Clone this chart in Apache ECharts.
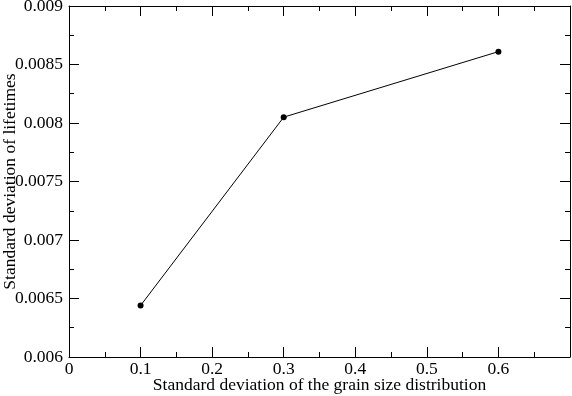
<!DOCTYPE html>
<html><head><meta charset="utf-8">
<script src="https://cdn.jsdelivr.net/npm/echarts@6/dist/echarts.min.js"></script>
<style>html,body{margin:0;padding:0;background:#fff}#c{width:572px;height:396px}</style>
</head><body><div id="c"></div>
<script>
const xValues = [0.1, 0.3, 0.6];
const yValues = [0.00644, 0.00805, 0.00861];
const xTitle = 'Standard deviation of the grain size distribution';
const yTitle = 'Standard deviation of lifetimes';

const font = 'Liberation Serif';
const fmt = v => String(parseFloat(v.toFixed(5)));
const axisCommon = {
  axisLine: {onZero: false, lineStyle: {color: '#000', width: 1}},
  axisTick: {inside: true, length: 10, lineStyle: {color: '#000'}},
  minorTick: {show: true, splitNumber: 2, length: 5, lineStyle: {color: '#000'}},
  splitLine: {show: false},
  nameMoveOverlap: false
};
const chart = echarts.init(document.getElementById('c'));
chart.setOption({
  animation: false,
  backgroundColor: '#fff',
  grid: {left: 69, right: 2, top: 6, bottom: 39, containLabel: false, outerBoundsMode: 'none'},
  xAxis: [
    Object.assign({type: 'value', min: 0, max: 0.7, interval: 0.1, position: 'bottom',
      name: xTitle, nameLocation: 'middle', nameGap: 19,
      nameTextStyle: {fontFamily: font, fontSize: 17.5, color: '#000'},
      axisLabel: {fontFamily: font, fontSize: 17.5, color: '#000', margin: 3,
        formatter: v => (Math.abs(v - 0.7) < 1e-9 ? '' : fmt(v))}}, axisCommon),
    Object.assign({type: 'value', min: 0, max: 0.7, interval: 0.1, position: 'top',
      axisLabel: {show: false}}, axisCommon)
  ],
  yAxis: [
    Object.assign({type: 'value', min: 0.006, max: 0.009, interval: 0.0005, position: 'left',
      name: yTitle, nameLocation: 'middle', nameGap: 50,
      nameTextStyle: {fontFamily: font, fontSize: 17.5, color: '#000'},
      axisLabel: {fontFamily: font, fontSize: 17.5, color: '#000', margin: 6, formatter: fmt}}, axisCommon),
    Object.assign({type: 'value', min: 0.006, max: 0.009, interval: 0.0005, position: 'right',
      axisLabel: {show: false}}, axisCommon)
  ],
  series: [{
    type: 'line',
    data: xValues.map((x, i) => [x, yValues[i]]),
    symbol: 'circle', symbolSize: 6,
    lineStyle: {color: '#000', width: 1},
    itemStyle: {color: '#000'}
  }]
});
</script></body></html>
